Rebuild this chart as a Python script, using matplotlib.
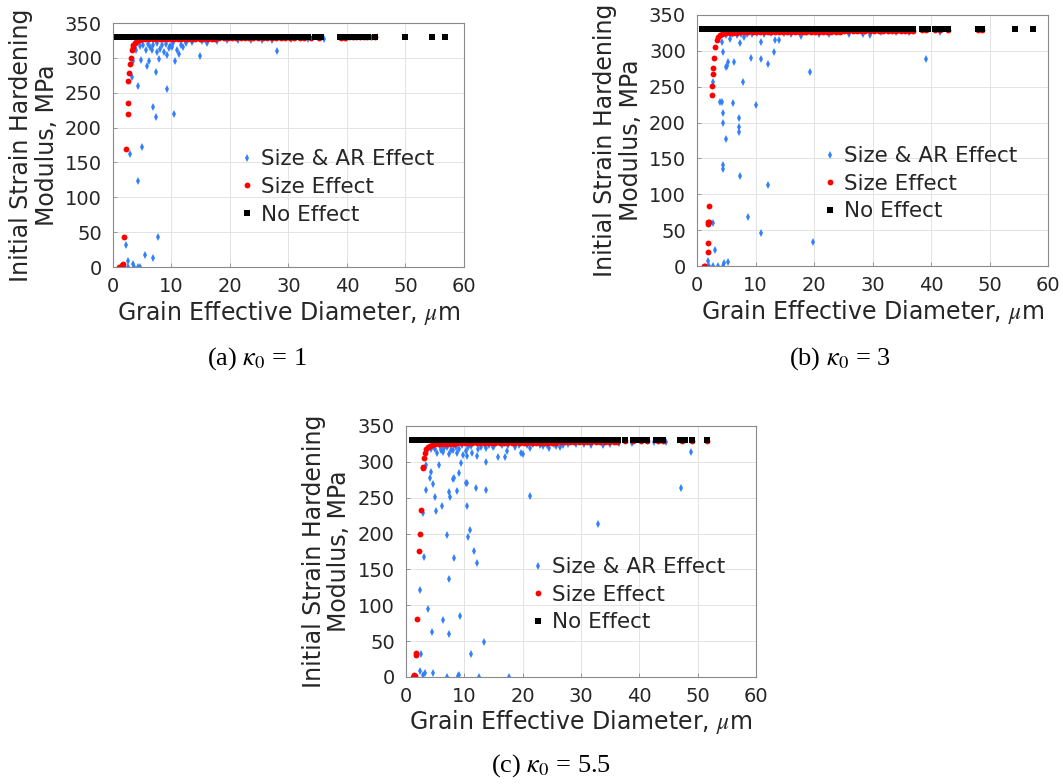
import numpy as np
import matplotlib
matplotlib.use('Agg')
import matplotlib.pyplot as plt

plt.rcParams['font.family'] = ['DejaVu Sans']
plt.rcParams['mathtext.fontset'] = 'stix'

SAT_MODULUS = 330  # saturated modulus of the "No Effect" grains, MPa

# ---------- (a) kappa0 = 1 ----------
a_none_x = [0.6, 0.9, 1.3, 1.6, 2.0, 2.5, 2.8, 3.3, 3.7, 4.0, 4.6, 5.1, 5.4, 5.9, 6.5, 6.8,
            7.4, 7.9, 8.3, 8.8, 9.4, 9.7, 10.3, 10.9, 11.2, 11.8, 12.4, 12.7, 13.3, 13.9,
            14.3, 14.8, 15.4, 15.8, 16.3, 16.9, 17.2, 17.8, 18.4, 18.8, 19.3, 19.9, 20.3,
            20.8, 21.4, 21.7, 22.3, 22.9, 23.3, 23.8, 24.4, 24.8, 25.3, 25.9, 26.2, 26.8,
            27.4, 27.9, 28.5, 29.0, 29.6, 30.1, 30.7, 31.2, 31.8, 32.4, 33.3, 34.5, 35.0,
            35.6, 38.8, 39.4, 40.0, 40.5, 41.1, 41.7, 42.2, 42.8, 43.6, 44.8, 49.9, 54.6, 56.7]
a_size_x = [1.0, 1.5, 1.7, 1.9, 2.2, 2.5, 2.5, 2.6, 2.8, 2.85, 3.0, 3.2, 3.4, 3.5, 3.7, 3.9,
            4.1, 4.3, 4.6, 5.0, 5.5, 6.1, 6.8, 7.3, 8.0, 8.6, 9.2, 9.9, 10.5, 11.1, 11.6,
            12.3, 12.8, 13.5, 14.1, 14.8, 15.5, 16.2, 16.9, 17.5, 18.2, 18.9, 19.6, 20.3,
            21.0, 21.8, 22.5, 23.2, 24.0, 24.8, 25.6, 26.3, 27.1, 27.8, 28.7, 29.4, 30.3,
            31.0, 31.9, 32.6, 33.8, 35.2, 38.9, 39.6, 40.4, 41.0, 41.6, 42.3, 42.9, 43.5,
            44.1, 44.8]
a_size_y = [0.5, 3, 4, 43.5, 169, 219, 235, 267, 279, 291, 300, 311, 315, 318.5, 321, 323,
            324.5, 325.5, 326, 326.5, 326.5, 326.5, 326.8, 326.8, 327, 327, 327, 327.2,
            327.2, 327.3, 327.3, 327.4, 327.5, 327.5, 327.6, 327.6, 327.7, 327.7, 327.8,
            327.8, 327.9, 327.9, 328, 328, 328, 328.1, 328.1, 328.2, 328.2, 328.3, 328.3,
            328.4, 328.4, 328.5, 328.6, 328.6, 328.7, 328.7, 328.8, 328.8, 328.9, 329,
            329.2, 329.2, 329.3, 329.3, 329.3, 329.4, 329.4, 329.4, 329.5, 329.5]
a_ar_x = [1.8, 2.6, 3.6, 4.2, 4.6, 2.6, 3.5, 2.2, 5.4, 6.8, 7.7, 4.2, 2.9, 4.9, 6.8, 7.3,
          10.4, 9.3, 4.2, 3.2, 7.3, 5.8, 6.2, 3.4, 4.8, 7.9, 10.6, 11.3, 11.0, 9.3, 8.8,
          7.5, 6.7, 5.7, 4.0, 14.9, 28.0, 16.0, 5.2, 6.0, 6.9, 7.6, 8.3, 9.0, 9.8, 10.3,
          11.6, 12.4, 13.5, 15.2, 17.8, 19.5, 21.3, 23.6, 25.4, 27.2, 30.5, 33.4, 36.1,
          39.8, 6.4, 8.0, 9.5, 10.1, 4.6, 12.0]
a_ar_y = [0, 0, 0, 0, 0, 9, 5, 31, 16.7, 12.4, 42.6, 123, 162, 172, 230, 215, 219.5, 255,
          260, 273, 280, 289, 295, 295, 297, 299, 295, 306, 311, 304, 309, 308, 311, 311,
          312, 303, 310, 322, 318, 320, 318, 321, 319, 320, 317, 321, 319, 322, 323, 324,
          324, 325, 325, 325, 326, 326, 327, 327, 327.5, 328, 315, 313, 314, 316, 317, 316]

# ---------- (b) kappa0 = 3 ----------
b_none_x = [0.8, 1.2, 1.5, 1.9, 2.4, 2.7, 3.1, 3.6, 3.9, 4.4, 4.9, 5.2, 5.7, 6.3, 6.6, 7.2,
            7.7, 8.1, 8.6, 9.2, 9.5, 10.1, 10.7, 11.0, 11.6, 12.2, 12.5, 13.1, 13.7, 14.1,
            14.6, 15.2, 15.6, 16.4, 16.9, 17.3, 17.9, 18.5, 18.9, 19.4, 20.0, 20.4, 20.9,
            21.5, 21.8, 22.4, 23.0, 23.4, 23.9, 24.5, 24.9, 25.4, 26.0, 26.3, 26.9, 27.5,
            28.0, 28.5, 29.3, 29.8, 30.2, 30.8, 31.3, 31.9, 32.5, 32.8, 33.4, 34.0, 34.4,
            34.9, 35.5, 35.9, 36.5, 37.0, 38.5, 38.8, 39.1, 39.4, 40.7, 41.2, 41.6, 42.0,
            42.9, 48.0, 48.3, 48.7, 54.4, 57.5]
b_size_x = [1.2, 1.4, 1.8, 1.8, 1.95, 2.0, 1.9, 2.05, 2.5, 2.6, 2.8, 2.8, 2.9, 3.1, 3.4,
            3.6, 3.9, 4.2, 4.6, 5.0, 5.6, 6.2, 6.9, 7.5, 8.2, 8.8, 9.5, 10.1, 10.8, 11.4,
            12.1, 12.7, 13.4, 14.0, 14.7, 15.3, 16.1, 16.8, 17.4, 18.1, 18.7, 19.5, 20.2,
            20.8, 21.6, 22.3, 22.9, 23.7, 24.4, 25.1, 25.8, 26.6, 27.3, 28.1, 28.8, 29.6,
            30.3, 31.1, 31.8, 32.6, 33.3, 34.1, 34.8, 35.6, 36.3, 37.0, 38.5, 39.1, 40.7,
            41.6, 42.9, 48.0, 48.7]
b_size_y = [0.5, 0, 19, 32.5, 58, 61, 62, 83, 238, 251, 268, 276, 290, 305, 315, 319, 322,
            323, 324.5, 325, 325.2, 325.4, 325.5, 325.6, 325.7, 325.8, 325.9, 326, 326,
            326.1, 326.1, 326.2, 326.2, 326.3, 326.3, 326.4, 326.4, 326.5, 326.5, 326.5,
            326.6, 326.6, 326.7, 326.7, 326.8, 326.8, 326.8, 326.9, 326.9, 327, 327, 327,
            327.1, 327.1, 327.2, 327.2, 327.3, 327.3, 327.4, 327.4, 327.5, 327.5, 327.6,
            327.6, 327.7, 328, 329, 329.2, 329.3, 329.4, 329.5, 329.6, 329.6]
b_ar_x = [1.9, 2.1, 2.7, 3.6, 4.4, 4.6, 5.3, 3.1, 2.7, 4.4, 4.5, 7.3, 8.8, 10.9, 12.2, 19.8,
          4.9, 4.4, 7.2, 7.2, 4.4, 7.1, 3.9, 4.3, 6.2, 10.1, 2.7, 7.8, 19.3, 5.0, 5.1, 5.3,
          6.3, 39.1, 9.3, 11.0, 12.2, 4.4, 13.1, 4.3, 7.4, 10.9, 13.3, 14.1, 5.7, 8.1, 17.7,
          5.0, 6.0, 6.8, 7.5, 8.5, 9.4, 10.3, 11.5, 12.6, 14.8, 16.1, 18.6, 20.9, 22.6,
          25.9, 28.3, 29.5, 31.5, 34.0, 36.2, 41.5]
b_ar_y = [7, 0, 0, 0.5, 0.5, 3.7, 5.6, 22, 60, 135, 141, 126, 68, 46, 113, 34, 177, 200,
          187, 194, 214, 207, 228, 229, 227, 225, 256, 257, 270, 278, 279, 284, 285, 289,
          290, 289, 281, 298, 298, 312, 311, 312, 315, 315, 316, 319, 320, 322, 323, 322,
          324, 323, 324, 325, 324, 325, 325, 324, 326, 323, 323.5, 323, 323.5, 322, 326,
          326, 326.5, 326]

# ---------- (c) kappa0 = 5.5 ----------
c_none_x = [1.0, 1.4, 1.7, 2.1, 2.6, 2.9, 3.3, 3.8, 4.1, 4.6, 5.1, 5.4, 5.9, 6.5, 6.8, 7.4,
            7.9, 8.3, 8.8, 9.4, 9.7, 10.3, 10.9, 11.2, 11.8, 12.4, 12.7, 13.3, 13.9, 14.3,
            14.8, 15.4, 15.8, 16.3, 16.9, 17.2, 17.8, 18.4, 18.8, 19.3, 19.9, 20.3, 20.8,
            21.4, 21.7, 22.3, 22.9, 23.3, 23.8, 24.4, 24.8, 25.3, 25.9, 26.2, 26.8, 27.4,
            27.9, 28.5, 29.0, 29.6, 30.1, 30.7, 31.2, 31.8, 32.4, 32.8, 33.4, 34.0, 34.5,
            35.0, 35.6, 36.0, 36.4, 37.5, 39.0, 39.8, 40.3, 40.8, 41.3, 42.9, 43.2, 44.1,
            47.0, 47.4, 47.8, 49.0, 51.6]
c_size_x = [1.25, 1.4, 1.5, 1.7, 1.8, 1.9, 2.3, 2.4, 2.5, 2.9, 3.0, 3.1, 3.3, 3.5, 3.8,
            4.1, 4.5, 5.0, 5.6, 6.2, 6.9, 7.5, 8.2, 8.8, 9.5, 10.1, 10.8, 11.4, 12.1, 12.7,
            13.4, 14.0, 14.7, 15.3, 16.1, 16.8, 17.4, 18.1, 18.7, 19.5, 20.2, 20.8, 21.6,
            22.3, 22.9, 23.7, 24.4, 25.1, 25.8, 26.6, 27.3, 28.1, 28.8, 29.6, 30.3, 31.1,
            31.8, 32.6, 33.3, 34.1, 34.8, 35.6, 36.2, 37.5, 39.0, 40.3, 41.3, 43.2, 44.1,
            47.4, 49.0, 51.6]
c_size_y = [0.5, 2.4, 1, 30.7, 34, 81, 175, 199, 233, 292, 293, 305, 312, 317.6, 320, 322,
            323.5, 324.5, 325, 325.2, 325.3, 325.4, 325.5, 325.6, 325.7, 325.8, 325.9, 326,
            326, 326.1, 326.1, 326.2, 326.2, 326.3, 326.3, 326.4, 326.4, 326.5, 326.5, 326.5,
            326.6, 326.6, 326.7, 326.7, 326.8, 326.8, 326.8, 326.9, 326.9, 327, 327, 327,
            327.1, 327.1, 327.2, 327.2, 327.3, 327.3, 327.4, 327.4, 327.5, 327.5, 327.8,
            329, 329.2, 329.3, 329.4, 329.5, 329.5, 329.6, 329.6, 329.7]
c_ar_x = [1.8, 2.4, 3.0, 3.3, 4.6, 7.0, 8.9, 9.1, 12.6, 17.7, 2.5, 4.4, 3.7, 2.4, 3.1, 2.9,
          3.4, 4.1, 4.3, 4.6, 5.0, 5.1, 6.2, 7.0, 7.3, 7.5, 7.3, 7.3, 6.3, 8.1, 8.2, 8.3,
          8.7, 9.3, 9.1, 9.4, 10.3, 10.4, 10.4, 10.7, 11.0, 11.1, 11.7, 12.0, 12.2, 13.4,
          13.8, 13.7, 21.3, 32.9, 47.1, 48.9, 3.5, 5.7,
          4.9, 5.4, 6.0, 6.3, 7.1, 7.4, 8.1, 8.7, 9.1, 9.7, 10.3, 10.5, 11.3, 12.2, 12.4,
          13.8, 14.9, 15.8, 17.0, 17.3, 18.7, 20.1, 21.3, 23.5, 25.8, 24.6, 26.4, 19.8,
          4.3, 4.8, 5.9, 6.6, 7.2, 7.8, 8.5, 9.6, 10.6, 11.2, 12.8, 13.5, 14.3, 15.1, 16.4,
          17.5, 18.6, 19.3, 20.7, 21.8, 22.9, 24.1, 25.3, 26.9, 27.8, 29.2, 30.6, 31.8,
          33.8, 34.9, 36.5, 38.8, 42.5, 44.6]
c_ar_y = [0, 8.8, 2.8, 5, 5, 0, 1, 2.8, 0, 0, 32, 63, 95, 121, 167, 228, 261, 277, 286,
          269, 251, 232, 238.5, 198, 258, 251, 137, 60, 79.5, 276, 277, 165.5, 259, 85, 284,
          298, 270, 238.5, 270, 195, 205, 32, 175, 264, 158.5, 49, 261, 299.5, 252, 213,
          264, 313, 296, 296,
          317.5, 312, 316.6, 313, 320, 311, 316.6, 312, 317.5, 309.6, 315.6, 308, 312, 308,
          317.5, 319, 321, 307, 307, 315, 321, 311, 319, 322, 322, 319, 321, 312,
          318, 321, 322, 319, 323, 317, 321, 323, 320, 322, 321, 323, 324, 322, 324,
          323, 325, 324, 323, 325, 324, 323, 325, 324, 325, 324.5, 325, 324,
          323.6, 325, 326, 326, 327, 327]

panels = [
    (a_ar_x, a_ar_y, a_size_x, a_size_y, a_none_x, r'(a) $\kappa_0$ = 1'),
    (b_ar_x, b_ar_y, b_size_x, b_size_y, b_none_x, r'(b) $\kappa_0$ = 3'),
    (c_ar_x, c_ar_y, c_size_x, c_size_y, c_none_x, r'(c) $\kappa_0$ = 5.5'),
]

# axes boxes in figure coordinates: left, bottom, width, height
boxes = [
    [0.1063, 0.6594, 0.3302, 0.3112],
    [0.6557, 0.6607, 0.3302, 0.3202],
    [0.3819, 0.1365, 0.3293, 0.3202],
]
legend_anchor = [(0.357, 0.328), (0.354, 0.327), (0.352, 0.327)]
caption_pos = [(0.242, 0.542), (0.790, 0.542), (0.518, 0.024)]

TICK_FS = 14
LABEL_FS = 17
LEG_FS = 15.5
blue = '#3380ff'
ink = '#262626'

fig = plt.figure(figsize=(10.63, 7.84), dpi=100)

for i, (arx, ary, sx, sy, nx, cap) in enumerate(panels):
    ax = fig.add_axes(boxes[i])
    ax.plot(arx, ary, linestyle='none', marker='d', markersize=4.2,
            color=blue, markeredgewidth=0, label='Size & AR Effect')
    ax.plot(sx, sy, linestyle='none', marker='o', markersize=4.2,
            color='red', markeredgewidth=0, label='Size Effect')
    ax.plot(nx, np.full(len(nx), SAT_MODULUS), linestyle='none', marker='s',
            markersize=3.8, color='black', markeredgewidth=0, label='No Effect')

    ax.set_xlim(0, 60)
    ax.set_ylim(0, 350)
    ax.set_xticks(np.arange(0, 61, 10))
    ax.set_yticks(np.arange(0, 351, 50))
    ax.grid(True, color='#e3e3e3', linewidth=0.7)
    ax.set_axisbelow(True)
    for sp in ax.spines.values():
        sp.set_color('#8a8a8a')
        sp.set_linewidth(0.8)
    ax.tick_params(direction='in', length=3, width=0.6, color='#8a8a8a',
                   labelsize=TICK_FS, labelcolor=ink)
    ax.tick_params(axis='x', pad=7)
    ax.tick_params(axis='y', pad=8)
    ax.set_xlabel(r'Grain Effective Diameter, $\mu$m', fontsize=LABEL_FS,
                  color=ink, labelpad=2)
    ax.set_ylabel('Initial Strain Hardening\nModulus, MPa', fontsize=LABEL_FS,
                  color=ink, labelpad=4.5, linespacing=1.1)

    leg = ax.legend(loc='center left', bbox_to_anchor=legend_anchor[i],
                    frameon=False, fontsize=LEG_FS, handlelength=0.8,
                    handletextpad=0.25, borderpad=0, borderaxespad=0,
                    labelspacing=0.35)
    for t in leg.get_texts():
        t.set_color(ink)

    fig.text(caption_pos[i][0], caption_pos[i][1], cap, ha='center', va='center',
             fontsize=19, family='Liberation Serif', color='black')

fig.savefig('out.png', dpi=100)
